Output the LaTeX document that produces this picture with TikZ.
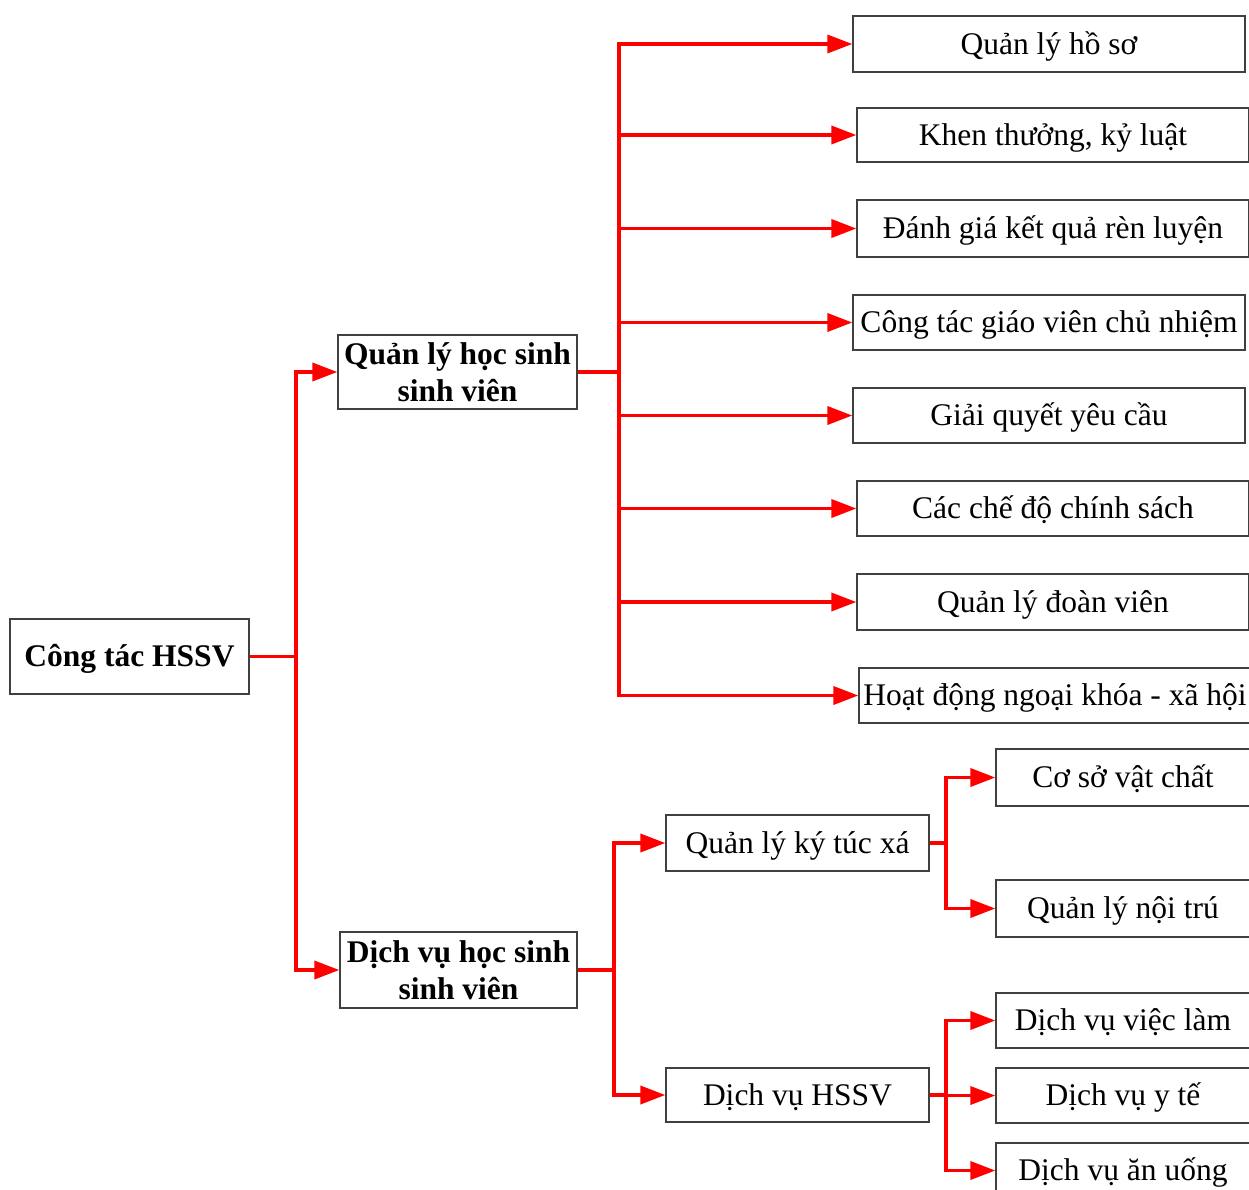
\documentclass[tikz,border=0pt]{standalone}
\usepackage{fontspec}
\setmainfont{Liberation Serif}
\usetikzlibrary{arrows.meta}
\begin{document}
\begin{tikzpicture}[x=1pt,y=-1pt,
  box/.style={draw=black!75, line width=1.3pt, inner sep=0pt, align=center,
    text height=24pt, text depth=4pt,
    font=\fontsize{31.5}{37}\selectfont},
  bbox/.style={draw=black!75, line width=1.3pt, inner sep=0pt, align=center,
    font=\fontsize{31.5}{37}\selectfont\bfseries},
  conn/.style={draw=red, line width=3.6pt, line join=miter},
  arr/.style={conn, -{Triangle[length=25pt,width=18pt]}}]
\useasboundingbox (0,0) rectangle (1249,1189);
% boxes
\node[bbox, minimum width=239, minimum height=75, text height=23pt, text depth=4pt] (root) at (129.5,656.5) {Công tác HSSV};
\node[bbox, minimum width=239, minimum height=74] (ql) at (457.5,372) {Quản lý học sinh\\sinh viên};
\node[bbox, minimum width=237, minimum height=76] (dv) at (458.5,970) {Dịch vụ học sinh\\sinh viên};
\node[box, minimum width=392, minimum height=56] (a1) at (1049,44) {Quản lý hồ sơ};
\node[box, minimum width=392, minimum height=54] (a2) at (1053,135) {Khen thưởng, kỷ luật};
\node[box, minimum width=392, minimum height=57] (a3) at (1053,228.5) {Đánh giá kết quả rèn luyện};
\node[box, minimum width=392, minimum height=55] (a4) at (1049,322.5) {Công tác giáo viên chủ nhiệm};
\node[box, minimum width=392, minimum height=55] (a5) at (1049,415.5) {Giải quyết yêu cầu};
\node[box, minimum width=392, minimum height=55] (a6) at (1053,508.5) {Các chế độ chính sách};
\node[box, minimum width=392, minimum height=56] (a7) at (1053,602) {Quản lý đoàn viên};
\node[box, minimum width=392, minimum height=55] (a8) at (1055,695.5) {Hoạt động ngoại khóa - xã hội};
\node[box, minimum width=263, minimum height=56] (ktx) at (797.5,843) {Quản lý ký túc xá};
\node[box, minimum width=263, minimum height=54] (dvh) at (797.5,1095) {Dịch vụ HSSV};
\node[box, minimum width=254, minimum height=57] (b1) at (1123,777.5) {Cơ sở vật chất};
\node[box, minimum width=254, minimum height=57] (b2) at (1123,908.5) {Quản lý nội trú};
\node[box, minimum width=254, minimum height=55] (c1) at (1123,1020.5) {Dịch vụ việc làm};
\node[box, minimum width=254, minimum height=55] (c2) at (1123,1095.5) {Dịch vụ y tế};
\node[box, minimum width=254, minimum height=55] (c3) at (1123,1170.5) {Dịch vụ ăn uống};
% junctions
\coordinate (t1) at (296,656.5);
\coordinate (t2) at (619,372);
\coordinate (t3) at (614,970);
\coordinate (t4) at (946,843);
\coordinate (t5) at (946,1095);
% connectors
\draw[conn] (root.east) -- (t1);
\draw[arr] (t1) |- (ql.west);
\draw[arr] (t1) |- (dv.west);
\draw[conn] (ql.east) -- (t2);
\foreach \n in {a1,a2,a3,a4,a5,a6,a7,a8} \draw[arr] (t2) |- (\n.west);
\draw[conn] (dv.east) -- (t3);
\draw[arr] (t3) |- (ktx.west);
\draw[arr] (t3) |- (dvh.west);
\draw[conn] (ktx.east) -- (t4);
\draw[arr] (t4) |- (b1.west);
\draw[arr] (t4) |- (b2.west);
\draw[conn] (dvh.east) -- (t5);
\foreach \n in {c1,c2,c3} \draw[arr] (t5) |- (\n.west);
\end{tikzpicture}
\end{document}
